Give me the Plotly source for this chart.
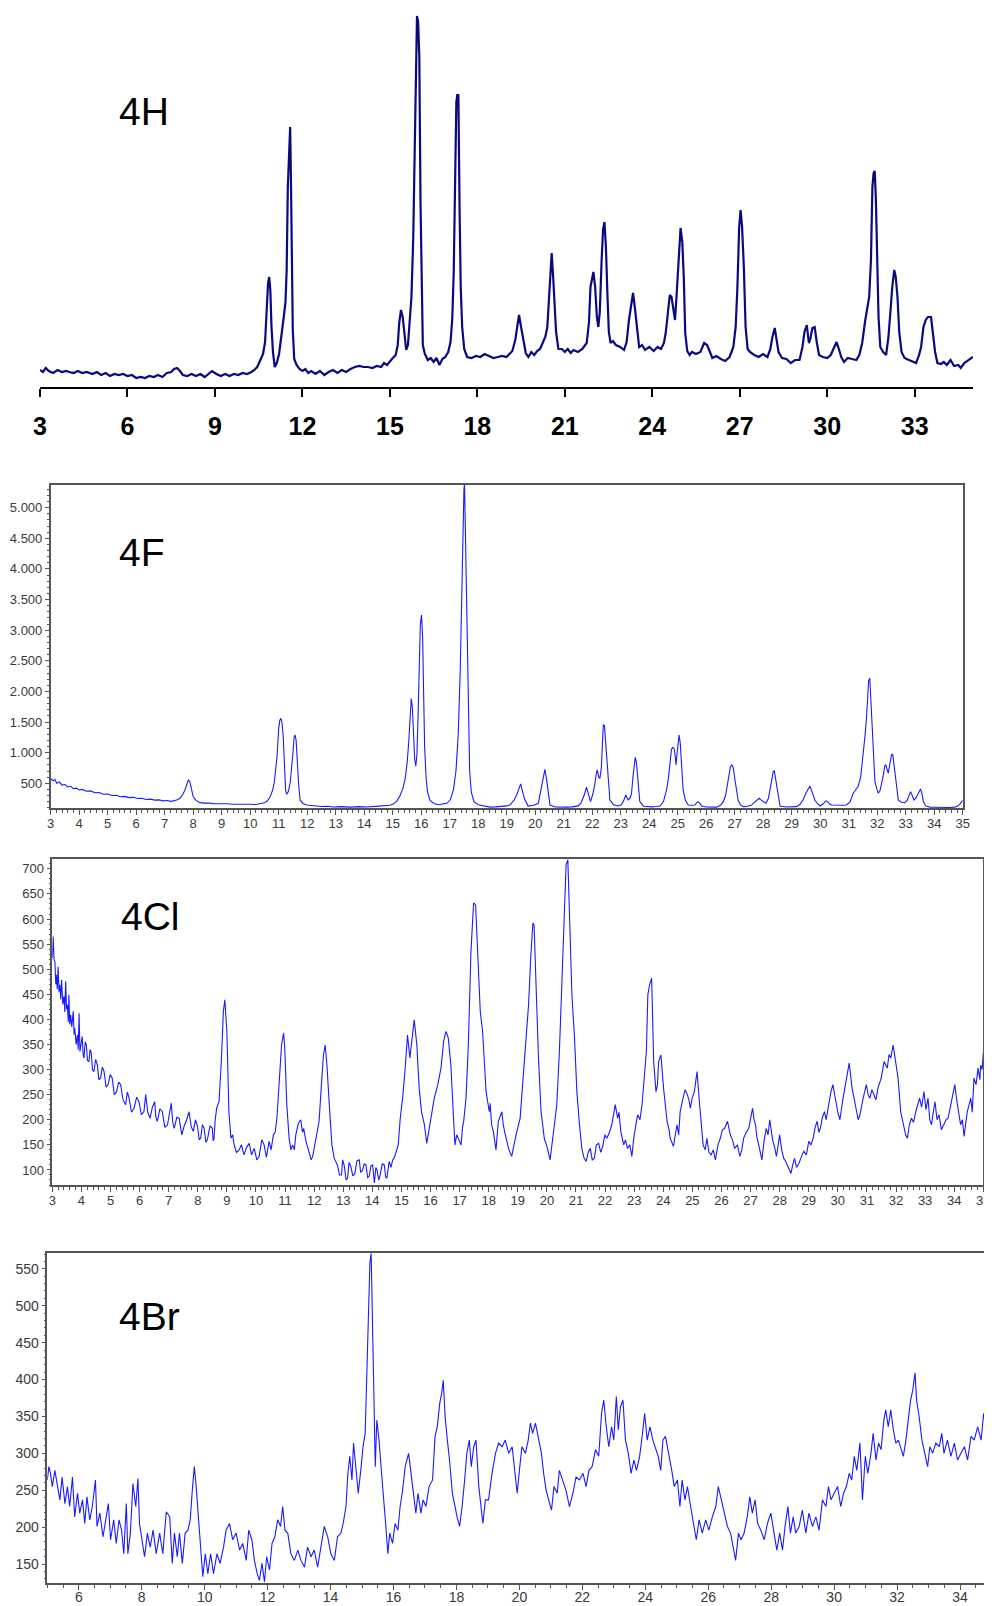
import plotly.graph_objects as go

# ---------------- data (2-theta, intensity) ----------------
H_PTS = [(3.0,17),(3.1,15),(3.2,19),(3.3,16),(3.45,14),(3.6,17),(3.75,15),(3.9,16),(4.0,15),(4.15,14),(4.3,16),(4.45,14),
 (4.6,15),(4.8,13),(4.95,15),(5.1,12),(5.25,14),(5.4,11),(5.55,13),(5.7,12),(5.85,13),(6.0,11),(6.15,12),(6.3,9),(6.45,10),
 (6.6,9),(6.75,11),(6.9,10),(7.05,12),(7.2,10),(7.35,14),(7.5,15),(7.6,18),(7.7,19),(7.8,16),(7.9,12),(8.05,11),(8.2,13),
 (8.35,11),(8.5,13),(8.65,10),(8.8,14),(8.9,16),(9.05,13),(9.2,11),(9.35,13),(9.5,11),(9.65,13),(9.8,12),(9.95,14),(10.1,13),
 (10.25,15),(10.35,17),(10.45,20),(10.55,26),(10.65,33),(10.72,45),(10.78,80),(10.82,103),(10.86,110),(10.9,97),(10.94,60),
 (10.99,35),(11.05,20),(11.12,24),(11.2,33),(11.28,55),(11.36,70),(11.42,85),(11.46,117),(11.5,200),(11.54,240),(11.58,260),
 (11.61,200),(11.64,110),(11.67,57),(11.72,28),(11.8,22),(11.9,18),(12.0,16),(12.1,18),(12.2,14),(12.3,16),(12.45,13),(12.6,16),
 (12.75,12),(12.9,15),(13.05,17),(13.2,14),(13.35,17),(13.5,15),(13.65,18),(13.8,20),(13.95,21),(14.1,20),(14.25,20),(14.4,19),
 (14.55,21),(14.7,20),(14.8,24),(14.9,22),(15.0,26),(15.1,29),(15.2,32),(15.27,42),(15.32,64),(15.38,77),(15.44,70),(15.5,52),
 (15.56,37),(15.62,42),(15.68,65),(15.74,90),(15.8,147),(15.85,227),(15.89,330),(15.93,371),(15.97,365),(16.01,330),(16.05,187),
 (16.09,80),(16.13,42),(16.2,33),(16.3,27),(16.4,29),(16.5,25),(16.6,29),(16.7,22),(16.8,28),(16.9,30),(17.0,35),(17.08,45),
 (17.14,68),(17.19,115),(17.24,210),(17.28,285),(17.31,292),(17.35,292),(17.39,180),(17.43,100),(17.48,60),(17.55,38),(17.65,30),
 (17.8,29),(17.95,31),(18.1,30),(18.25,33),(18.4,31),(18.55,29),(18.7,30),(18.85,31),(19.0,30),(19.1,33),(19.2,36),(19.3,47),
 (19.36,60),(19.43,72),(19.5,60),(19.58,45),(19.66,34),(19.75,30),(19.85,35),(19.95,32),(20.05,36),(20.15,38),(20.25,44),
 (20.33,50),(20.4,60),(20.46,87),(20.51,120),(20.55,134),(20.6,110),(20.65,85),(20.7,55),(20.78,38),(20.9,38),(21.0,35),
 (21.1,38),(21.2,34),(21.3,37),(21.45,35),(21.6,38),(21.75,44),(21.83,65),(21.88,100),(21.94,110),(21.98,115),(22.04,100),
 (22.1,70),(22.15,60),(22.2,75),(22.26,125),(22.31,157),(22.36,165),(22.41,140),(22.46,94),(22.51,55),(22.57,44),(22.65,46),
 (22.75,42),(22.9,40),(23.03,37),(23.12,45),(23.2,67),(23.27,82),(23.34,94),(23.4,80),(23.47,60),(23.55,40),(23.65,42),
 (23.75,37),(23.9,40),(24.05,36),(24.18,40),(24.3,38),(24.4,44),(24.46,54),(24.52,70),(24.6,92),(24.66,90),(24.72,80),
 (24.78,67),(24.83,90),(24.9,130),(24.97,159),(25.03,145),(25.08,110),(25.13,54),(25.2,36),(25.28,32),(25.36,35),(25.5,33),
 (25.65,35),(25.78,44),(25.88,42),(25.95,37),(26.06,29),(26.2,31),(26.35,28),(26.5,26),(26.65,30),(26.78,40),(26.86,60),
 (26.92,100),(26.98,160),(27.03,177),(27.08,160),(27.14,120),(27.2,60),(27.27,38),(27.35,35),(27.5,32),(27.65,30),(27.8,33),
 (27.95,30),(28.05,38),(28.12,50),(28.2,59),(28.26,48),(28.33,35),(28.45,29),(28.6,28),(28.75,24),(28.9,27),(29.05,27),
 (29.15,40),(29.22,55),(29.3,62),(29.37,44),(29.42,48),(29.49,59),(29.57,60),(29.64,45),(29.72,32),(29.85,30),(30.0,29),
 (30.12,32),(30.22,38),(30.32,45),(30.4,38),(30.48,30),(30.58,25),(30.7,29),(30.85,28),(31.0,27),(31.1,32),(31.2,44),
 (31.3,66),(31.38,80),(31.44,90),(31.5,127),(31.55,200),(31.59,214),(31.63,216),(31.67,187),(31.71,120),(31.76,70),(31.82,40),
 (31.92,35),(32.02,32),(32.1,50),(32.18,80),(32.23,100),(32.3,117),(32.35,110),(32.41,90),(32.47,55),(32.55,35),(32.65,29),
 (32.8,27),(32.95,25),(33.05,24),(33.15,32),(33.22,40),(33.3,60),(33.38,67),(33.45,70),(33.56,70),(33.62,55),(33.7,35),
 (33.78,24),(33.9,23),(34.0,25),(34.1,22),(34.23,27),(34.35,21),(34.5,22),(34.58,19),(34.7,24),(34.85,27),(35.0,30)]

F_PTS = [(3.0,581),(3.08,540),(3.15,560),(3.21,500),(3.3,520),(3.4,470),(3.5,480),(3.6,440),(3.7,450),(3.8,410),(3.9,420),
 (4.0,390),(4.1,400),(4.25,370),(4.4,375),(4.55,345),(4.7,350),(4.85,320),(5.0,325),(5.15,300),(5.3,305),(5.45,280),(5.6,285),
 (5.75,265),(5.9,270),(6.05,250),(6.2,255),(6.35,235),(6.5,240),(6.65,225),(6.8,228),(6.95,212),(7.1,218),(7.2,205),(7.3,212),
 (7.42,225),(7.54,255),(7.64,320),(7.71,390),(7.78,480),(7.83,553),(7.88,530),(7.93,430),(8.0,280),(8.1,220),(8.24,183),
 (8.4,175),(8.55,178),(8.7,168),(8.85,170),(9.0,160),(9.2,165),(9.41,158),(9.6,160),(9.8,152),(10.0,158),(10.2,152),(10.35,160),
 (10.5,180),(10.6,210),(10.7,280),(10.78,380),(10.84,500),(10.9,750),(10.95,989),(11.0,1400),(11.04,1530),(11.08,1561),
 (11.12,1480),(11.16,1250),(11.2,717),(11.24,400),(11.28,320),(11.34,363),(11.4,500),(11.45,700),(11.5,989),(11.54,1250),
 (11.57,1288),(11.61,1207),(11.65,850),(11.7,480),(11.75,227),(11.85,170),(11.98,145),(12.2,130),(12.5,120),(12.7,125),
 (12.92,112),(13.2,118),(13.5,110),(13.8,118),(14.09,112),(14.4,122),(14.7,128),(14.9,140),(15.02,160),(15.15,210),(15.26,300),
 (15.36,420),(15.44,580),(15.51,850),(15.56,1153),(15.61,1696),(15.65,1880),(15.69,1750),(15.73,1300),(15.77,900),(15.81,780),
 (15.85,960),(15.89,1600),(15.93,2400),(15.97,3100),(16.01,3247),(16.05,2900),(16.08,2100),(16.12,1100),(16.17,600),(16.22,360),
 (16.31,220),(16.45,170),(16.6,150),(16.75,160),(16.9,173),(17.02,230),(17.13,390),(17.22,700),(17.3,1300),(17.37,2349),
 (17.42,3600),(17.46,4700),(17.5,5300),(17.52,5400),(17.55,4600),(17.58,3500),(17.62,2400),(17.66,1260),(17.7,700),(17.76,350),
 (17.85,200),(18.0,150),(18.2,130),(18.41,110),(18.6,115),(18.8,120),(19.0,130),(19.11,145),(19.25,220),(19.35,309),(19.43,430),
 (19.49,490),(19.55,380),(19.62,250),(19.75,128),(19.95,140),(20.11,173),(20.2,380),(20.27,600),(20.34,725),(20.4,560),
 (20.46,300),(20.52,145),(20.7,112),(20.9,108),(21.1,110),(21.3,115),(21.5,130),(21.6,170),(21.72,309),(21.8,436),(21.86,330),
 (21.94,200),(22.02,320),(22.09,472),(22.14,650),(22.18,717),(22.23,600),(22.27,581),(22.32,750),(22.36,1100),(22.39,1452),
 (22.43,1440),(22.47,1150),(22.52,800),(22.57,400),(22.62,227),(22.75,150),(22.91,128),(23.02,150),(23.09,200),(23.18,309),
 (23.26,227),(23.33,260),(23.38,336),(23.43,600),(23.47,826),(23.51,923),(23.55,850),(23.59,608),(23.64,350),(23.67,200),
 (23.8,125),(23.91,118),(24.1,115),(24.25,120),(24.38,128),(24.5,200),(24.61,390),(24.68,600),(24.73,826),(24.78,1050),
 (24.82,1087),(24.87,1071),(24.91,950),(24.94,799),(24.98,1000),(25.02,1250),(25.05,1288),(25.09,1150),(25.14,800),(25.19,390),
 (25.27,220),(25.37,145),(25.5,140),(25.6,145),(25.66,180),(25.72,200),(25.78,170),(25.84,128),(26.0,112),(26.2,108),(26.36,110),
 (26.5,140),(26.6,200),(26.68,300),(26.74,445),(26.8,650),(26.85,771),(26.9,800),(26.95,750),(27.01,553),(27.06,380),(27.12,227),
 (27.2,150),(27.3,118),(27.45,125),(27.58,140),(27.65,173),(27.75,220),(27.86,255),(27.93,225),(28.0,200),(28.1,175),(28.18,250),
 (28.24,380),(28.3,550),(28.35,690),(28.39,706),(28.44,560),(28.5,360),(28.59,128),(28.8,112),(29.0,110),(29.17,118),(29.3,160),
 (29.4,230),(29.5,340),(29.58,420),(29.64,454),(29.7,380),(29.76,280),(29.81,227),(29.9,170),(29.99,128),(30.1,160),(30.2,213),
 (30.26,200),(30.33,160),(30.4,145),(30.6,140),(30.8,142),(30.92,145),(31.05,200),(31.16,336),(31.25,400),(31.33,445),(31.42,600),
 (31.5,900),(31.57,1261),(31.62,1534),(31.66,2000),(31.7,2180),(31.74,2214),(31.78,1806),(31.82,1300),(31.86,900),(31.92,527),
 (31.98,420),(32.04,336),(32.1,380),(32.15,472),(32.22,650),(32.27,790),(32.3,799),(32.34,740),(32.39,663),(32.43,780),(32.47,880),
 (32.51,978),(32.55,960),(32.6,750),(32.65,550),(32.7,350),(32.74,227),(32.85,190),(32.97,183),(33.05,220),(33.12,320),(33.17,363),
 (33.23,300),(33.29,227),(33.36,260),(33.42,309),(33.48,380),(33.52,408),(33.57,330),(33.62,200),(33.7,130),(33.85,110),(34.0,108),
 (34.2,105),(34.4,100),(34.55,104),(34.7,110),(34.8,120),(34.9,160),(35.0,220)]

CL_PTS = [(3.0,522),(3.03,565),(3.06,520),(3.09,515),(3.12,470),(3.14,489),(3.17,460),(3.2,505),(3.23,455),(3.26,469),(3.29,440),
 (3.32,479),(3.36,430),(3.4,446),(3.43,415),(3.46,476),(3.49,420),(3.52,429),(3.55,395),(3.57,449),(3.6,390),(3.63,409),(3.67,385),
 (3.72,416),(3.75,370),(3.77,383),(3.82,350),(3.86,369),(3.89,340),(3.92,412),(3.95,336),(3.99,355),(4.03,366),(4.06,330),(4.09,323),
 (4.13,355),(4.17,349),(4.21,318),(4.26,316),(4.3,340),(4.34,333),(4.38,300),(4.43,296),(4.49,320),(4.55,309),(4.6,280),(4.66,283),
 (4.72,305),(4.78,296),(4.85,265),(4.92,270),(4.99,290),(5.06,283),(5.13,250),(5.21,256),(5.28,275),(5.35,270),(5.43,240),(5.52,230),
 (5.58,255),(5.64,243),(5.72,215),(5.81,223),(5.9,245),(5.98,236),(6.06,210),(6.15,216),(6.21,250),(6.28,215),(6.36,203),(6.44,225),
 (6.52,236),(6.56,205),(6.61,197),(6.7,222),(6.78,216),(6.87,185),(6.96,190),(7.03,210),(7.09,233),(7.14,195),(7.19,183),(7.28,205),
 (7.36,203),(7.45,170),(7.53,187),(7.62,200),(7.7,216),(7.78,185),(7.85,177),(7.92,200),(7.99,187),(8.05,160),(8.1,163),(8.16,190),
 (8.22,183),(8.28,155),(8.33,160),(8.42,188),(8.5,183),(8.53,158),(8.56,163),(8.6,200),(8.65,223),(8.73,236),(8.81,316),(8.88,416),
 (8.93,439),(9.0,376),(9.07,216),(9.14,163),(9.2,170),(9.25,150),(9.33,135),(9.42,140),(9.5,150),(9.59,130),(9.68,145),(9.77,153),
 (9.85,130),(9.94,143),(10.03,120),(10.11,127),(10.2,160),(10.28,150),(10.36,125),(10.45,157),(10.52,140),(10.6,170),(10.66,175),
 (10.72,203),(10.8,270),(10.88,349),(10.95,373),(10.99,343),(11.06,230),(11.14,163),(11.2,140),(11.26,150),(11.32,140),(11.37,170),
 (11.46,193),(11.54,200),(11.6,175),(11.64,183),(11.72,157),(11.83,137),(11.9,120),(11.95,127),(12.06,163),(12.17,197),(12.25,270),
 (12.32,329),(12.38,349),(12.44,309),(12.52,230),(12.61,150),(12.69,123),(12.75,115),(12.8,110),(12.87,90),(12.94,90),(12.98,120),
 (13.03,110),(13.1,80),(13.15,84),(13.2,115),(13.26,107),(13.33,88),(13.4,93),(13.47,118),(13.55,120),(13.6,95),(13.67,100),
 (13.72,112),(13.78,110),(13.84,85),(13.89,87),(13.95,108),(14.01,110),(14.07,74),(14.12,105),(14.16,100),(14.22,80),(14.27,90),
 (14.34,112),(14.41,110),(14.46,85),(14.5,84),(14.58,117),(14.64,105),(14.7,120),(14.76,125),(14.81,137),(14.89,150),(14.96,203),
 (15.04,243),(15.12,296),(15.21,369),(15.29,323),(15.36,356),(15.44,399),(15.53,349),(15.61,263),(15.69,216),(15.79,190),(15.87,153),
 (15.96,183),(16.04,216),(16.13,243),(16.25,270),(16.36,303),(16.45,356),(16.53,376),(16.61,363),(16.7,309),(16.78,216),(16.84,150),
 (16.9,170),(16.96,163),(17.05,150),(17.1,185),(17.14,197),(17.22,243),(17.3,349),(17.39,535),(17.48,632),(17.55,628),(17.62,535),
 (17.71,416),(17.79,376),(17.85,300),(17.91,256),(18.02,216),(18.05,233),(18.1,190),(18.16,177),(18.25,140),(18.33,197),(18.45,216),
 (18.5,190),(18.56,173),(18.62,160),(18.68,143),(18.79,127),(18.86,150),(18.94,170),(19.08,203),(19.19,283),(19.29,366),(19.37,429),
 (19.45,529),(19.52,592),(19.56,588),(19.62,482),(19.71,323),(19.8,216),(19.91,163),(20.02,143),(20.11,120),(20.23,177),(20.34,230),
 (20.43,336),(20.51,469),(20.59,602),(20.66,708),(20.72,718),(20.78,615),(20.86,449),(20.95,363),(21.03,256),(21.12,190),(21.2,143),
 (21.27,125),(21.35,117),(21.42,135),(21.49,143),(21.56,120),(21.63,123),(21.7,150),(21.78,153),(21.85,135),(21.92,147),(21.99,170),
 (22.06,163),(22.15,175),(22.23,190),(22.35,230),(22.43,203),(22.48,215),(22.54,177),(22.64,150),(22.7,160),(22.77,143),(22.85,150),
 (22.92,127),(23.0,170),(23.12,210),(23.2,200),(23.27,230),(23.35,283),(23.42,336),(23.47,449),(23.53,469),(23.6,482),(23.67,316),
 (23.75,256),(23.8,270),(23.84,316),(23.92,329),(24.01,263),(24.07,230),(24.13,197),(24.2,180),(24.24,163),(24.35,147),(24.42,175),
 (24.47,190),(24.53,170),(24.58,216),(24.68,243),(24.75,260),(24.81,253),(24.88,240),(24.93,223),(25.0,245),(25.07,256),(25.16,296),
 (25.25,230),(25.37,150),(25.44,140),(25.5,163),(25.57,135),(25.64,130),(25.72,140),(25.79,120),(25.88,150),(25.96,163),(26.03,180),
 (26.11,183),(26.21,197),(26.3,170),(26.38,160),(26.45,143),(26.55,150),(26.63,127),(26.7,140),(26.76,163),(26.85,175),(26.94,183),
 (27.07,223),(27.12,200),(27.17,190),(27.22,165),(27.28,150),(27.34,130),(27.39,120),(27.47,160),(27.54,183),(27.6,170),(27.66,200),
 (27.72,175),(27.77,157),(27.83,145),(27.89,127),(27.95,150),(28.0,170),(28.07,140),(28.14,123),(28.2,118),(28.28,107),(28.33,100),
 (28.39,93),(28.45,110),(28.51,123),(28.58,105),(28.66,113),(28.74,125),(28.83,137),(28.92,130),(29.0,157),(29.08,150),(29.15,163),
 (29.22,185),(29.29,197),(29.35,175),(29.4,183),(29.47,205),(29.54,216),(29.6,200),(29.69,236),(29.76,255),(29.83,270),(29.92,236),
 (30.0,215),(30.07,200),(30.12,225),(30.18,243),(30.3,283),(30.39,313),(30.49,263),(30.56,240),(30.63,223),(30.7,200),(30.76,210),
 (30.82,230),(30.87,243),(30.98,270),(31.04,250),(31.1,243),(31.17,260),(31.24,250),(31.31,240),(31.38,263),(31.49,283),(31.59,316),
 (31.7,303),(31.76,330),(31.82,323),(31.9,349),(31.99,309),(32.07,283),(32.16,216),(32.22,200),(32.27,190),(32.33,170),(32.39,163),
 (32.46,190),(32.53,203),(32.6,195),(32.68,216),(32.75,230),(32.81,243),(32.88,225),(32.96,256),(33.03,220),(33.1,243),(33.16,200),
 (33.22,190),(33.28,215),(33.34,236),(33.41,200),(33.48,210),(33.56,180),(33.65,190),(33.72,200),(33.79,203),(33.9,236),(34.02,270),
 (34.11,230),(34.22,190),(34.28,200),(34.34,167),(34.4,195),(34.45,216),(34.57,243),(34.62,215),(34.68,283),(34.75,270),(34.82,303),
 (34.88,280),(34.91,309),(34.96,300),(35.0,333)]

BR_PTS = [(5.0,264),(5.05,282),(5.1,273),(5.16,255),(5.24,277),(5.31,259),(5.4,237),(5.47,268),(5.56,232),(5.64,255),(5.71,228),
 (5.8,268),(5.87,214),(5.96,246),(6.03,219),(6.12,237),(6.19,205),(6.26,241),(6.35,210),(6.43,228),(6.53,264),(6.58,201),(6.67,219),
 (6.77,187),(6.86,210),(6.94,232),(7.01,183),(7.11,210),(7.19,178),(7.28,210),(7.36,196),(7.43,164),(7.51,232),(7.56,164),(7.64,192),
 (7.72,259),(7.81,228),(7.88,266),(7.93,205),(8.02,183),(8.09,160),(8.18,192),(8.27,173),(8.36,196),(8.46,164),(8.57,192),(8.67,164),
 (8.78,221),(8.89,214),(8.97,151),(9.04,192),(9.13,160),(9.2,192),(9.29,151),(9.38,192),(9.47,196),(9.54,210),(9.6,246),(9.67,282),
 (9.73,255),(9.8,214),(9.87,183),(9.94,133),(10.02,164),(10.1,137),(10.19,164),(10.28,137),(10.39,164),(10.49,151),(10.6,173),
 (10.68,196),(10.79,205),(10.89,183),(11.0,192),(11.11,169),(11.21,178),(11.32,155),(11.4,196),(11.5,183),(11.58,155),(11.67,137),
 (11.74,128),(11.82,151),(11.9,126),(11.97,160),(12.06,142),(12.14,178),(12.23,187),(12.32,210),(12.41,201),(12.48,228),(12.55,196),
 (12.64,192),(12.74,164),(12.85,155),(12.96,169),(13.06,155),(13.17,146),(13.27,173),(13.38,160),(13.48,169),(13.59,146),(13.7,173),
 (13.8,201),(13.91,187),(14.01,164),(14.12,155),(14.22,187),(14.33,192),(14.4,205),(14.49,228),(14.55,273),(14.61,296),(14.68,264),
 (14.73,314),(14.81,273),(14.88,246),(14.96,277),(15.03,309),(15.1,327),(15.15,418),(15.2,499),(15.25,558),(15.29,571),(15.33,463),
 (15.37,381),(15.42,282),(15.47,345),(15.54,318),(15.62,273),(15.7,237),(15.75,205),(15.82,164),(15.88,192),(15.97,178),(16.05,205),
 (16.14,196),(16.21,228),(16.29,250),(16.37,282),(16.48,300),(16.56,273),(16.64,246),(16.71,219),(16.78,246),(16.87,219),(16.94,237),
 (17.03,228),(17.13,255),(17.24,264),(17.32,323),(17.39,336),(17.47,368),(17.53,381),(17.58,399),(17.64,350),(17.71,318),(17.78,291),
 (17.87,246),(17.95,228),(18.02,214),(18.1,201),(18.18,228),(18.26,264),(18.33,300),(18.41,318),(18.47,282),(18.55,309),(18.62,318),
 (18.71,255),(18.78,228),(18.84,205),(18.92,237),(19.02,237),(19.13,273),(19.24,300),(19.34,314),(19.45,309),(19.55,318),(19.66,300),
 (19.77,309),(19.85,273),(19.93,246),(20.0,277),(20.08,309),(20.19,300),(20.28,318),(20.35,341),(20.42,327),(20.51,341),(20.62,318),
 (20.7,300),(20.77,273),(20.85,250),(20.93,237),(21.02,223),(21.1,255),(21.2,246),(21.27,277),(21.38,264),(21.48,250),(21.59,228),
 (21.7,246),(21.8,268),(21.91,264),(22.02,273),(22.12,255),(22.21,277),(22.31,282),(22.42,305),(22.52,296),(22.61,354),(22.68,372),
 (22.76,336),(22.84,309),(22.93,336),(23.0,318),(23.08,377),(23.14,332),(23.21,363),(23.29,372),(23.37,318),(23.46,300),(23.55,273),
 (23.64,291),(23.72,277),(23.82,296),(23.9,323),(23.98,354),(24.06,318),(24.15,336),(24.24,318),(24.33,305),(24.41,296),(24.49,277),
 (24.56,318),(24.64,323),(24.75,300),(24.84,277),(24.92,255),(25.02,264),(25.1,228),(25.17,264),(25.26,237),(25.34,255),(25.44,228),
 (25.54,205),(25.62,183),(25.71,210),(25.81,192),(25.92,210),(26.02,196),(26.13,214),(26.24,228),(26.32,255),(26.41,237),(26.5,219),
 (26.61,201),(26.71,192),(26.8,173),(26.87,155),(26.96,192),(27.04,183),(27.14,192),(27.24,214),(27.32,241),(27.4,219),(27.49,237),
 (27.57,205),(27.67,196),(27.78,183),(27.88,205),(27.99,219),(28.09,192),(28.18,169),(28.27,192),(28.36,169),(28.44,201),(28.53,228),
 (28.61,192),(28.7,214),(28.78,192),(28.89,201),(28.99,223),(29.1,192),(29.2,219),(29.31,201),(29.42,214),(29.52,196),(29.63,237),
 (29.74,228),(29.82,255),(29.9,237),(30.0,246),(30.11,255),(30.21,228),(30.3,246),(30.39,255),(30.48,273),(30.56,264),(30.64,296),
 (30.72,277),(30.82,314),(30.9,237),(30.99,296),(31.07,273),(31.17,300),(31.24,327),(31.33,291),(31.41,314),(31.49,305),(31.58,345),
 (31.64,359),(31.72,336),(31.8,359),(31.88,332),(31.96,314),(32.04,318),(32.13,305),(32.2,296),(32.28,318),(32.36,345),(32.43,372),
 (32.5,386),(32.57,409),(32.62,372),(32.7,350),(32.79,318),(32.87,300),(32.97,282),(33.04,309),(33.13,300),(33.23,314),(33.34,309),
 (33.42,327),(33.49,300),(33.6,318),(33.71,296),(33.82,314),(33.92,291),(34.03,300),(34.14,309),(34.24,291),(34.35,323),(34.45,318),
 (34.56,336),(34.67,318),(34.75,354),(34.82,336),(34.9,314),(34.98,318)]

PANEL_LABELS = ["4H", "4F", "4Cl", "4Br"]
H_TICKS = [3, 6, 9, 12, 15, 18, 21, 24, 27, 30, 33]
F_YTICKS = [500, 1000, 1500, 2000, 2500, 3000, 3500, 4000, 4500, 5000]
F_YTEXT = ["500", "1.000", "1.500", "2.000", "2.500", "3.000", "3.500", "4.000", "4.500", "5.000"]

# ---------------- figure ----------------
# the page body has an 8 px margin, so the figure starts at (8, 8) of the window
OFF = 8
W, H = 992 - OFF, 1606 - OFF
def fx(px): return (px - OFF) / W
def fy(py): return 1 - (py - OFF) / H

fig = go.Figure()
for pts, ax, col, lw in [(H_PTS, "1", "#0a0a80", 2.2), (F_PTS, "2", "#1a1aff", 1.1),
                         (CL_PTS, "3", "#1a1aff", 1.1), (BR_PTS, "4", "#1a1aff", 1.1)]:
    xs = [p[0] for p in pts]
    ys = [p[1] for p in pts]
    fig.add_trace(go.Scatter(x=xs, y=ys, mode="lines", line=dict(color=col, width=lw),
                             xaxis="x" if ax == "1" else "x" + ax,
                             yaxis="y" if ax == "1" else "y" + ax,
                             showlegend=False, hoverinfo="skip"))

FONT = "Arial, Liberation Sans, sans-serif"
gray = "#3a3a3a"
frame = "#555555"

common_frame = dict(showline=True, linecolor=frame, linewidth=1.5, mirror=True, showgrid=False,
                    zeroline=False, ticks="outside", tickcolor=frame, tickwidth=1, automargin=False,
                    tickfont=dict(family=FONT, size=13, color=gray))

layout = dict(
    width=W, height=H, margin=dict(l=0, r=0, t=0, b=0, autoexpand=False),
    paper_bgcolor="white", plot_bgcolor="white", showlegend=False,
    # panel 1 (4H)
    xaxis=dict(domain=[fx(40), fx(973)], range=[3, 35], anchor="y", showline=True, linecolor="black",
               linewidth=2, ticks="outside", ticklen=8, tickwidth=2, tickcolor="black",
               tickmode="array", tickvals=H_TICKS, ticklabelstandoff=8, automargin=False,
               tickfont=dict(family=FONT, size=25, color="black", weight="bold"),
               showgrid=False, zeroline=False),
    yaxis=dict(domain=[fy(387), fy(8)], range=[0, 379], anchor="x", visible=False, automargin=False),
    # panel 2 (4F)
    xaxis2=dict(domain=[fx(50.7), fx(962.7)], range=[3, 35], anchor="y2", tickmode="linear", tick0=3,
                dtick=1, ticklen=5, ticklabelstandoff=-3,
                minor=dict(dtick=0.2, tick0=3, ticklen=3, ticks="outside", tickcolor=frame),
                **common_frame),
    yaxis2=dict(domain=[fy(808.3), fy(485)], range=[91, 5370], anchor="x2", tickmode="array",
                tickvals=F_YTICKS, ticktext=F_YTEXT, ticklen=4,
                minor=dict(tickmode="linear", dtick=100, tick0=0, ticklen=2, ticks="outside", tickcolor=frame),
                **common_frame),
    # panel 3 (4Cl)
    xaxis3=dict(domain=[fx(52.3), fx(983.3)], range=[3, 35], anchor="y3", tickmode="linear", tick0=3,
                dtick=1, ticklen=5, ticklabelstandoff=-2,
                minor=dict(dtick=0.2, tick0=3, ticklen=3, ticks="outside", tickcolor=frame),
                **common_frame),
    yaxis3=dict(domain=[fy(1185), fy(859.3)], range=[70, 719], anchor="x3", tickmode="linear", tick0=100,
                dtick=50, ticklen=4, minor=dict(dtick=10, tick0=0, ticklen=2, ticks="outside", tickcolor=frame),
                **common_frame),
    # panel 4 (4Br)
    xaxis4=dict(domain=[fx(47.3), fx(991.5)], range=[5, 35], anchor="y4", tickmode="linear", tick0=6,
                dtick=2, ticklen=5, ticklabelstandoff=-5,
                minor=dict(dtick=0.5, tick0=5, ticklen=3, ticks="outside", tickcolor=frame),
                **{**common_frame, "tickfont": dict(family=FONT, size=14, color=gray)}),
    yaxis4=dict(domain=[fy(1583.3), fy(1253.3)], range=[124, 571], anchor="x4", tickmode="linear", tick0=150,
                dtick=50, ticklen=4, minor=dict(dtick=10, tick0=0, ticklen=2, ticks="outside", tickcolor=frame),
                **{**common_frame, "tickfont": dict(family=FONT, size=14, color=gray)}),
)
fig.update_layout(**layout)

label_y = [111, 552, 916, 1316]
label_x = [117, 117, 119, 117]
for txt, lx, ly in zip(PANEL_LABELS, label_x, label_y):
    fig.add_annotation(text=txt, x=fx(lx), y=fy(ly), xref="paper", yref="paper",
                       xanchor="left", yanchor="middle", showarrow=False,
                       font=dict(family=FONT, size=39, color="black"))

fig.write_html("out.html")
